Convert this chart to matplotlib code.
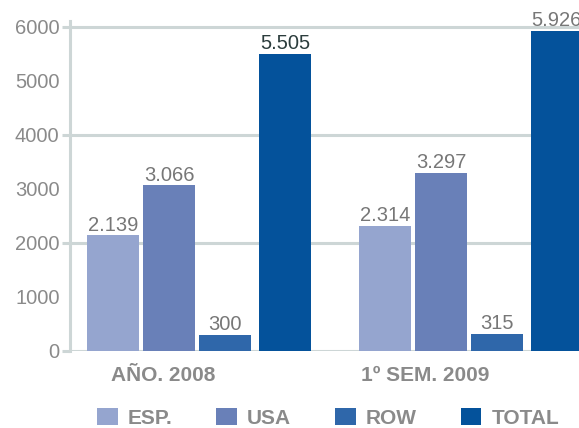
import numpy as np
import matplotlib
matplotlib.use("Agg")
import matplotlib.pyplot as plt
from matplotlib.ticker import FixedLocator, FuncFormatter

plt.rcParams['font.family'] = ['Liberation Sans', 'DejaVu Sans']

# data
categories = ['AÑO. 2008', '1º SEM. 2009']
series = ['ESP.', 'USA', 'ROW', 'TOTAL']
values = {
    'ESP.': [2139, 2314],
    'USA': [3066, 3297],
    'ROW': [300, 315],
    'TOTAL': [5505, 5926],
}
colors = ['#95a5cf', '#6980b8', '#2f67aa', '#04529b']

grid_col = '#cdd6d6'
text_col = '#8a8a8a'

fig = plt.figure(figsize=(5.79, 4.28), dpi=100)
ax = fig.add_axes([70 / 579, 77 / 428, 550 / 579, 330 / 428])

x = np.arange(len(categories))
offsets = [0, 0.206, 0.412, 0.632]
width = 0.191

for i, name in enumerate(series):
    bars = ax.bar(x + offsets[i], values[name], width, color=colors[i], label=name, zorder=3)
    labels = ax.bar_label(bars, labels=[f'{v:,}'.replace(',', '.') for v in values[name]],
                          padding=0.5, fontsize=14.5, color='#777777')
    if name == 'TOTAL':
        labels[0].set_color('#2c3d3d')

ax.set_xlim(-0.158, 1.864)
ax.set_ylim(0, 6111)

# ticks: gridlines only on even thousands
ax.yaxis.set_major_locator(FixedLocator([0, 2000, 4000, 6000]))
ax.yaxis.set_minor_locator(FixedLocator([1000, 3000, 5000]))
ax.yaxis.set_minor_formatter(FuncFormatter(lambda v, p: f'{int(v)}'))
ax.tick_params(axis='y', which='major', length=6, width=2.2, color=grid_col, pad=1.5,
               labelsize=14.5, labelcolor=text_col)
ax.tick_params(axis='y', which='minor', length=0, pad=7.5, labelsize=14.5, labelcolor=text_col)
ax.yaxis.grid(True, which='major', color=grid_col, linewidth=2.2, zorder=0)
ax.set_axisbelow(True)

ax.set_xticks([0.184, 1.147])
ax.set_xticklabels(categories, fontsize=15, fontweight='bold', color=text_col)
ax.tick_params(axis='x', length=0, pad=10.5)

for s in ['top', 'right', 'bottom']:
    ax.spines[s].set_visible(False)
ax.spines['left'].set_color(grid_col)
ax.spines['left'].set_linewidth(2.2)

fig.legend(loc='lower left', bbox_to_anchor=(97 / 579, 0.0), ncol=4, frameon=False,
           prop={'size': 15, 'weight': 'bold'}, labelcolor=text_col,
           handlelength=1.0, handleheight=0.9, handletextpad=0.48, columnspacing=2.1,
           borderpad=0, borderaxespad=0)

fig.savefig('out.png', dpi=100)
